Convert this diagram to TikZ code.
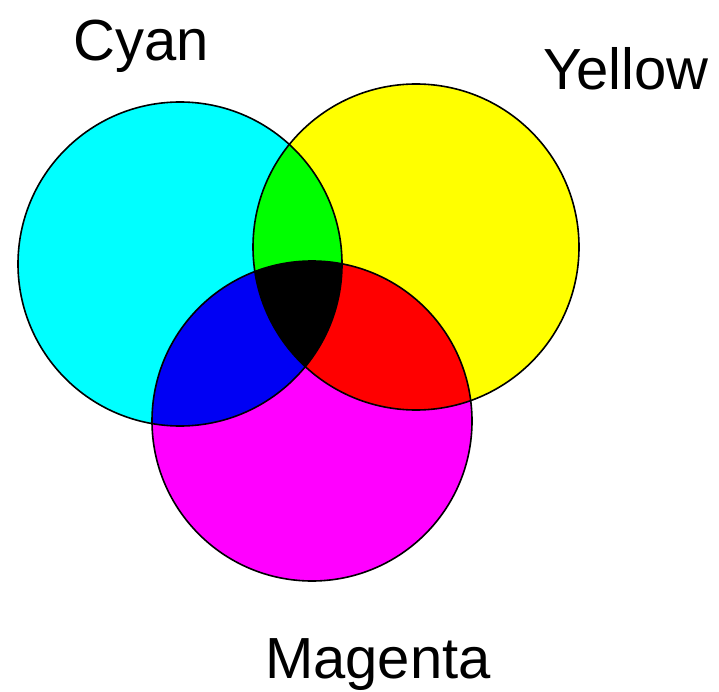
\documentclass[tikz,border=0pt]{standalone}
\usepackage{fontspec}
\setmainfont{Liberation Sans}
\usepackage{xcolor}
\usetikzlibrary{positioning}
\definecolor{cyanink}{HTML}{00FFFF}
\definecolor{yellowink}{HTML}{FFFF00}
\definecolor{magentaink}{HTML}{FF00FF}
\definecolor{greenmix}{HTML}{00FF00}
\definecolor{bluemix}{HTML}{0000F4}
\definecolor{redmix}{HTML}{FF0000}
\tikzset{
  rim/.style={draw=black, line width=1.6pt},
  lbl/.style={font=\fontsize{58}{60}\selectfont, anchor=base, inner sep=0pt},
}

\begin{document}
\begin{tikzpicture}[x=1pt,y=-1pt]
  \useasboundingbox (0,0) rectangle (719,692);

  % circle centres
  \coordinate (cy) at (180,264);
  \coordinate (ye) at (416,247);
  \coordinate (ma) at (312,421);

  % single inks
  \fill[cyanink] (cy) circle (162pt);
  \fill[yellowink] (ye) circle (163pt);
  \fill[magentaink] (ma) circle (160pt);

  % two-ink overlaps
  \begin{scope}
    \clip (cy) circle (162pt);
    \fill[greenmix] (ye) circle (163pt);
    \fill[bluemix] (ma) circle (160pt);
  \end{scope}
  \begin{scope}
    \clip (ye) circle (163pt);
    \fill[redmix] (ma) circle (160pt);
  \end{scope}

  % all three
  \begin{scope}
    \clip (cy) circle (162pt);
    \clip (ye) circle (163pt);
    \fill[black] (ma) circle (160pt);
  \end{scope}

  \draw[rim] (cy) circle (162pt);
  \draw[rim] (ye) circle (163pt);
  \draw[rim] (ma) circle (160pt);

  \node[lbl] (cyanlbl) at (141,61) {Cyan};
  \node[lbl] (yellowlbl) at (626,90) {Yellow};
  \node[lbl] (magentalbl) at (378,678) {Magenta};
\end{tikzpicture}
\end{document}
